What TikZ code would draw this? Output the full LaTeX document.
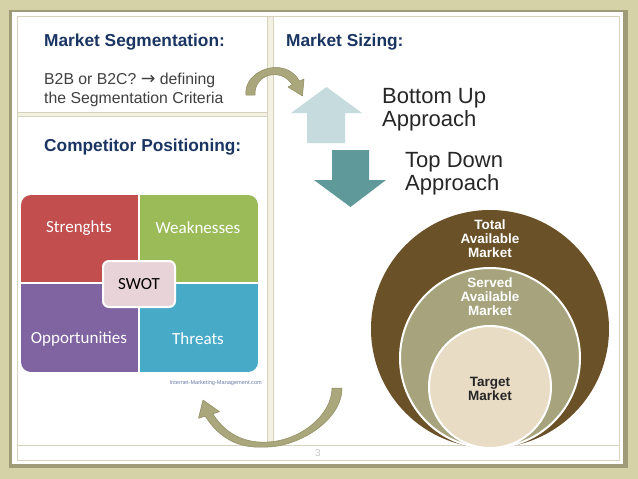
\documentclass[tikz,border=0pt]{standalone}
\usepackage{fontspec}
\setmainfont{Liberation Sans}
\newfontfamily\calib{Carlito}
\newfontfamily\djv{DejaVu Sans}
\definecolor{bgol}{HTML}{D5D2A7}
\definecolor{shad}{HTML}{9E9B76}
\definecolor{lineb}{HTML}{D6D2BC}
\definecolor{bandf}{HTML}{F3F0E4}
\definecolor{navy}{HTML}{1B3563}
\definecolor{bodyg}{HTML}{404040}
\definecolor{khaki}{HTML}{ABA77C}
\definecolor{khakid}{HTML}{8E8A60}
\definecolor{upc}{HTML}{C6DBDD}
\definecolor{dnc}{HTML}{5F9999}
\definecolor{swS}{HTML}{C24E4E}
\definecolor{swW}{HTML}{9BBB59}
\definecolor{swO}{HTML}{8064A2}
\definecolor{swT}{HTML}{47ABC8}
\definecolor{swC}{HTML}{E8D3D9}
\definecolor{brn}{HTML}{6B5127}
\definecolor{oliv}{HTML}{A7A47D}
\definecolor{beig}{HTML}{E9DCC5}
\definecolor{immc}{HTML}{6B80AA}
\begin{document}
\begin{tikzpicture}[x=1pt,y=-1pt,
  txt/.style={inner sep=0pt,anchor=base west},
  head/.style={txt,text=navy,font=\fontsize{17.3}{20}\selectfont\bfseries},
  body/.style={txt,text=bodyg,font=\fontsize{15.8}{19}\selectfont},
  big/.style={txt,text=black!85,font=\fontsize{22}{26}\selectfont},
  circw/.style={inner sep=0pt,anchor=base,text=white,font=\fontsize{13.5}{15}\selectfont\bfseries},
  circd/.style={inner sep=0pt,anchor=base,text=black!85,font=\fontsize{13.5}{15}\selectfont\bfseries},
  swq/.style={inner sep=0pt,text=white,font=\calib\fontsize{17}{20}\selectfont},
  curvearrow/.style={fill=khaki,draw=khakid,line width=0.5pt,line join=round},
  divider/.style={fill=bandf,draw=lineb,line width=0.6pt}
]
\useasboundingbox (0,0) rectangle (638,479);
% background
\fill[bgol] (0,0) rectangle (638,479);
% panel with shadow
\fill[shad] (9,10) rectangle (628,468);
\fill[white] (12,12) rectangle (623,464);
\draw[lineb,line width=0.8pt] (17,16) rectangle (619,460);
% dividers
\draw[lineb,line width=0.8pt] (17,445) -- (619,445);
\draw[divider] (267,16) rectangle (273,445);
\draw[divider] (17,112) rectangle (267,116);
% headings
\node[head] (ms) at (44,46) {Market Segmentation:};
\node[head] (msz) at (286,46) {Market Sizing:};
\node[head] (cp) at (44,151) {Competitor Positioning:};
\node[body] (b2b) at (44,84) {B2B or B2C? {\djv\fontsize{17.5}{19}\selectfont →} defining};
\node[body] (crit) at (44,103) {the Segmentation Criteria};
% SWOT
\begin{scope}
\clip[rounded corners=10pt] (21,195) rectangle (258,372);
\fill[swS] (21,195) rectangle (139,283);
\fill[swW] (139,195) rectangle (258,283);
\fill[swO] (21,283) rectangle (139,372);
\fill[swT] (139,283) rectangle (258,372);
\draw[white,line width=1.2pt] (139,195) -- (139,372) (21,283) -- (258,283);
\end{scope}
\draw[white,line width=2pt,fill=swC,rounded corners=6pt] (103,261) rectangle (175,307);
\node[swq] (str) at (79,228) {Strenghts};
\node[swq] (wk) at (198,228) {Weaknesses};
\node[swq] (opp) at (79,339) {Opportunities};
\node[swq] (thr) at (198,339) {Threats};
\node[inner sep=0pt,text=black,font=\calib\fontsize{17}{20}\selectfont] (swot) at (139,284) {SWOT};
\node[inner sep=0pt,anchor=base east,text=immc,font=\fontsize{5.6}{6}\selectfont] (imm) at (262,384) {Internet-Marketing-Management.com};
% block arrows
\fill[upc] (291,113) -- (326.5,87) -- (362,113) -- (345,113) -- (345,143) -- (307,143) -- (307,113) -- cycle;
\fill[dnc] (332,150) -- (369,150) -- (369,180) -- (386,180) -- (350.5,207) -- (314,180) -- (332,180) -- cycle;
\node[big] (bu1) at (382,103) {Bottom Up};
\node[big] (bu2) at (382,126) {Approach};
\node[big] (td1) at (405,167) {Top Down};
\node[big] (td2) at (405,190) {Approach};
% curved arrows
\draw[curvearrow] (246,95) .. controls (243,70) and (285,55) .. (299.6,81.2)
  -- (304,79) -- (302.5,96) -- (288,87) -- (292.4,84.8)
  .. controls (281,67) and (254,74) .. (255,95) -- cycle;
\draw[curvearrow] (342,388) .. controls (342,420) and (300,446) .. (268,447)
  .. controls (250,448) and (225,447) .. (205.2,416.2)
  -- (198.5,418.3) -- (203,400) -- (219.5,411.7) -- (212.8,413.8)
  .. controls (228,438) and (250,443) .. (267,442)
  .. controls (300,441) and (332,415) .. (332,388) -- cycle;
% circles
\fill[brn] (490,329) circle[radius=119];
\draw[white,line width=2pt,fill=oliv] (490,358) circle[radius=90];
\draw[white,line width=2pt,fill=beig] (490,387) circle[radius=61];
\node[circw] (t1) at (490,229) {Total};
\node[circw] (t2) at (490,243) {Available};
\node[circw] (t3) at (490,257) {Market};
\node[circw] (s1) at (490,287) {Served};
\node[circw] (s2) at (490,301) {Available};
\node[circw] (s3) at (490,315) {Market};
\node[circd] (g1) at (490,386) {Target};
\node[circd] (g2) at (490,400) {Market};
% page number
\node[inner sep=0pt,text=black!22,font=\fontsize{10}{12}\selectfont] (pn) at (318,453) {3};
\end{tikzpicture}
\end{document}
